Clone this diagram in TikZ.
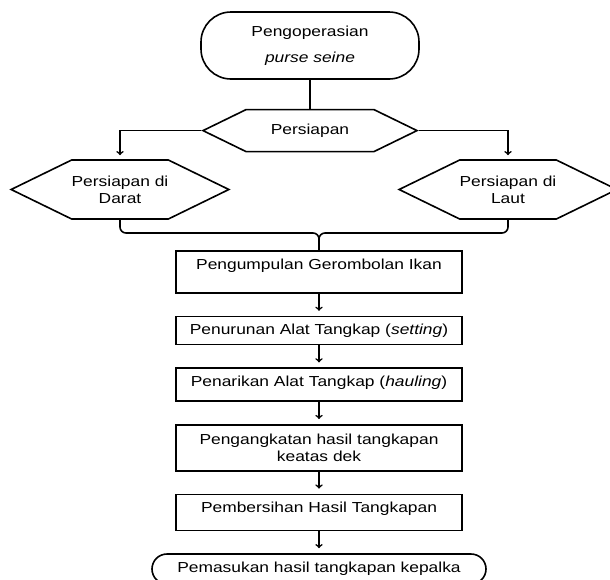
\documentclass[tikz,border=0pt]{standalone}
\usepackage{fontspec}
\setmainfont{Liberation Sans}[FakeStretch=1.2]
\usetikzlibrary{arrows}
\usetikzlibrary{positioning,shapes}

\begin{document}
\begin{tikzpicture} [x=1pt,y=1pt,node distance=22pt,line width=1.6pt, font=\fontsize{14.5}{17}\selectfont,
  box/.style={draw,rectangle,minimum width=286pt,inner xsep=0pt,inner ysep=5pt,align=center},
  lift/.style={text height=13pt,text depth=#1},
  hexa/.style={draw,signal,signal to=west and east,signal pointer angle=52,inner sep=0pt,align=center},
  term/.style={draw,rectangle,rounded corners=#1,align=center}]
  \useasboundingbox (0,0) rectangle (610,-579);

  \node[term=30pt] (start) [minimum width=218pt,minimum height=67pt] at (310,-45.5) {Pengoperasian\\[9pt]\textit{purse seine}};
  \node[hexa] (prep) [minimum width=214pt,minimum height=42pt,below=29pt of start] {Persiapan};
  \node[hexa] (darat) [minimum width=215pt,minimum height=59pt] at (120,-189.5) {Persiapan di\\Darat};
  \node[hexa] (laut) [minimum width=202pt,minimum height=59pt] at (508,-189.5) {Persiapan di\\Laut};

  \node[box] (kumpul) [lift=19pt] at (319,-272) {Pengumpulan Gerombolan Ikan};
  \node[box] (turun) [lift=5pt,below=of kumpul] {Penurunan Alat Tangkap (\textit{setting})};
  \node[box] (tarik) [lift=10pt,below=of turun] {Penarikan Alat Tangkap (\textit{hauling})};
  \node[box] (angkat) [minimum height=46pt,below=of tarik] {Pengangkatan hasil tangkapan\\keatas dek};
  \node[box] (bersih) [lift=13pt,below=of angkat] {Pembersihan Hasil Tangkapan};
  \node[term=15pt] (masuk) [minimum width=334pt,minimum height=30pt,below=of bersih] {Pemasukan hasil tangkapan kepalka};

  \coordinate (join) at (319,-233);

  \draw (start) -- (prep);
  \draw[->,shorten >=4pt] (prep.west) -| (darat.north);
  \draw[->,shorten >=4pt] (prep.east) -| (laut.north);
  \draw[rounded corners=6pt] (darat.south) |- (join) -- (kumpul.north);
  \draw[rounded corners=6pt] (laut.south) |- (join) -- (kumpul.north);

  \path[->,shorten >=5pt]
    (kumpul) edge (turun)
    (turun) edge (tarik)
    (tarik) edge (angkat)
    (angkat) edge (bersih)
    (bersih) edge (masuk);
\end{tikzpicture}
\end{document}
